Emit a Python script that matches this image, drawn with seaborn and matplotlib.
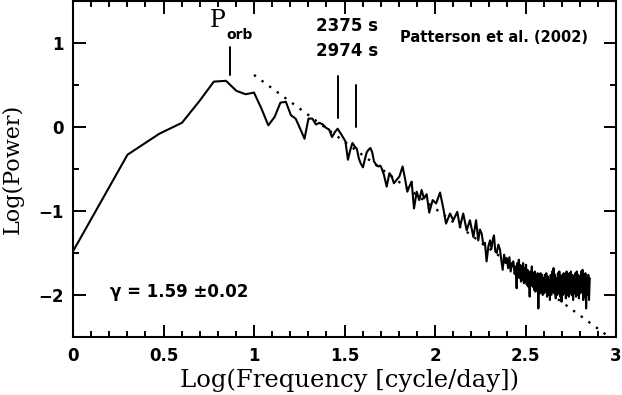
import numpy as np
import pandas as pd
import matplotlib
matplotlib.use("Agg")
import matplotlib.pyplot as plt
import seaborn as sns

# power spectrum (log10 frequency, log10 power)
log_freq = [
    0.000, 0.301, 0.477, 0.602, 0.699, 0.778, 0.845, 0.903, 0.954, 1.000,
    1.041, 1.079, 1.114, 1.146, 1.176, 1.204, 1.230, 1.255, 1.279, 1.301,
    1.322, 1.342, 1.362, 1.380, 1.398, 1.415, 1.431, 1.447, 1.462, 1.477,
    1.491, 1.505, 1.519, 1.531, 1.544, 1.556, 1.568, 1.580, 1.591, 1.602,
    1.613, 1.623, 1.633, 1.643, 1.653, 1.663, 1.675, 1.687, 1.698, 1.705,
    1.718, 1.733, 1.748, 1.761, 1.773, 1.788, 1.803, 1.821, 1.834, 1.847,
    1.862, 1.871, 1.884, 1.899, 1.913, 1.926, 1.939, 1.954, 1.968, 1.987,
    2.006, 2.028, 2.046, 2.061, 2.083, 2.101, 2.123, 2.138, 2.156, 2.175,
    2.193, 2.212, 2.227, 2.239, 2.248, 2.258, 2.267, 2.276, 2.285, 2.295,
    2.304, 2.312, 2.320, 2.326, 2.333, 2.341, 2.350, 2.359, 2.366, 2.374,
    2.382, 2.390, 2.396, 2.404, 2.411, 2.418, 2.426, 2.433, 2.440, 2.446,
    2.451, 2.455, 2.459, 2.463, 2.467, 2.471, 2.475, 2.479, 2.483, 2.487,
    2.491, 2.495, 2.499, 2.503, 2.507, 2.511, 2.515, 2.519, 2.523, 2.527,
    2.531, 2.535, 2.539, 2.543, 2.547, 2.551, 2.555, 2.559, 2.563, 2.567,
    2.571, 2.575, 2.579, 2.583, 2.587, 2.591, 2.595, 2.599, 2.603, 2.607,
    2.611, 2.615, 2.619, 2.623, 2.627, 2.631, 2.635, 2.639, 2.643, 2.647,
    2.651, 2.655, 2.659, 2.663, 2.667, 2.671, 2.675, 2.679, 2.683, 2.687,
    2.691, 2.695, 2.699, 2.703, 2.707, 2.711, 2.715, 2.719, 2.723, 2.727,
    2.731, 2.735, 2.739, 2.743, 2.747, 2.751, 2.755, 2.759, 2.763, 2.767,
    2.771, 2.775, 2.779, 2.783, 2.787, 2.791, 2.795, 2.799, 2.803, 2.807,
    2.811, 2.815, 2.819, 2.823, 2.827, 2.831, 2.835, 2.839, 2.843, 2.847,
    2.851, 2.855,
]
log_power = [
    -1.48, -0.33, -0.08, 0.05, 0.31, 0.54, 0.55, 0.43, 0.39, 0.41,
    0.22, 0.02, 0.12, 0.29, 0.30, 0.14, 0.10, -0.02, -0.14, 0.10,
    0.10, 0.03, 0.05, 0.03, -0.01, -0.03, -0.12, -0.06, -0.02, -0.07,
    -0.12, -0.17, -0.39, -0.28, -0.19, -0.23, -0.26, -0.38, -0.44, -0.48,
    -0.38, -0.30, -0.27, -0.25, -0.30, -0.41, -0.45, -0.47, -0.46, -0.49,
    -0.57, -0.71, -0.55, -0.59, -0.67, -0.63, -0.59, -0.47, -0.61, -0.77,
    -0.69, -0.65, -0.97, -0.77, -0.87, -0.75, -0.85, -0.80, -1.02, -0.87,
    -0.91, -0.78, -0.97, -1.15, -1.03, -1.11, -1.01, -1.19, -1.03, -1.23,
    -1.11, -1.31, -1.11, -1.35, -1.22, -1.27, -1.40, -1.38, -1.60, -1.42,
    -1.35, -1.45, -1.33, -1.29, -1.48, -1.50, -1.40, -1.46, -1.58, -1.70,
    -1.52, -1.62, -1.56, -1.68, -1.55, -1.72, -1.62, -1.60, -1.75, -1.66,
    -1.92, -1.62, -1.78, -1.58, -1.80, -1.64, -1.84, -1.66, -1.82, -1.62,
    -1.86, -1.68, -1.84, -1.64, -1.88, -1.70, -1.90, -1.74, -2.02, -1.72,
    -1.88, -1.66, -1.90, -1.74, -1.94, -1.72, -1.96, -1.76, -1.92, -1.74,
    -2.16, -1.78, -1.98, -1.74, -1.96, -1.76, -2.00, -1.80, -1.98, -1.76,
    -1.96, -1.74, -2.02, -1.78, -2.00, -1.82, -2.06, -1.76, -1.98, -1.72,
    -1.96, -1.68, -1.98, -1.76, -2.04, -1.80, -2.00, -1.74, -1.98, -1.72,
    -2.02, -1.78, -2.08, -1.76, -2.00, -1.74, -1.98, -1.76, -2.04, -1.72,
    -2.00, -1.78, -2.02, -1.74, -1.96, -1.72, -2.00, -1.76, -2.06, -1.78,
    -1.98, -1.74, -2.02, -1.72, -2.00, -1.76, -2.04, -1.78, -1.98, -1.72,
    -1.96, -1.70, -2.06, -1.76, -2.02, -1.74, -2.16, -1.80, -2.00, -1.76,
    -2.06, -1.80,
]

# power-law fit (dotted), gamma = 1.59
fit_x = [1.0, 3.0]
fit_y = [0.62, -2.56]

# marked periods
porb_x = 0.867
period_labels = ["2375 s", "2974 s"]
period_x = [1.561, 1.463]

spec = pd.DataFrame({"logf": log_freq, "logp": log_power})

sns.set_style("ticks")
plt.rcParams["font.family"] = ["Liberation Sans", "DejaVu Sans"]
plt.rcParams["text.color"] = "black"
plt.rcParams["axes.labelcolor"] = "black"

fig = plt.figure(figsize=(6.22, 3.95), dpi=100)
ax = fig.add_axes([73 / 622, 58 / 395, 543 / 622, 336 / 395])

sns.lineplot(data=spec, x="logf", y="logp", color="black", lw=1.5,
             estimator=None, sort=False, ax=ax)
ax.plot(fit_x, fit_y, color="black", lw=1.7, linestyle=(0, (1, 3)))

# marker lines
ax.plot([porb_x, porb_x], [0.62, 0.95], color="black", lw=1.4)
ax.plot([period_x[1], period_x[1]], [0.11, 0.61], color="black", lw=1.4)
ax.plot([period_x[0], period_x[0]], [0.0, 0.50], color="black", lw=1.4)

serif = ["DejaVu Serif"]
ax.text(0.80, 1.27, "P", fontsize=17, family=serif, ha="center", va="center")
ax.text(0.848, 1.10, "orb", fontsize=10, fontweight="bold",
        family=["DejaVu Sans"], ha="left", va="center")
ax.text(1.345, 1.20, period_labels[0], fontsize=12, fontweight="bold",
        family=["DejaVu Sans"], ha="left", va="center")
ax.text(1.345, 0.905, period_labels[1], fontsize=12, fontweight="bold",
        family=["DejaVu Sans"], ha="left", va="center")
ax.text(1.805, 1.06, "Patterson et al. (2002)", fontsize=10.5, fontweight="bold",
        family=["DejaVu Sans"], ha="left", va="center")
ax.text(0.205, -1.96, "\u03b3 = 1.59 \u00b10.02", fontsize=12, fontweight="bold",
        family=["DejaVu Sans"], ha="left", va="center")

ax.set_xlim(0, 3)
ax.set_ylim(-2.5, 1.5)
ax.set_xticks([0, 0.5, 1, 1.5, 2, 2.5, 3])
ax.set_xticklabels(["0", "0.5", "1", "1.5", "2", "2.5", "3"])
ax.set_xticks(np.arange(0, 3.01, 0.1), minor=True)
ax.set_yticks([-2, -1, 0, 1])
ax.set_yticklabels(["\u22122", "\u22121", "0", "1"])
ax.set_yticks(np.arange(-2.5, 1.51, 0.5), minor=True)

ax.tick_params(which="both", direction="in", top=True, right=True,
               bottom=True, left=True, color="black", labelcolor="black",
               width=1.4, labelsize=12, pad=7)
ax.tick_params(which="major", length=9)
ax.tick_params(which="minor", length=4.5)
for lab in ax.get_xticklabels() + ax.get_yticklabels():
    lab.set_fontweight("bold")
    lab.set_family("DejaVu Sans")
for sp in ax.spines.values():
    sp.set_linewidth(1.5)
    sp.set_color("black")

ax.set_xlabel("Log(Frequency [cycle/day])", fontsize=17.5, family=serif)
ax.xaxis.set_label_coords(0.51, -0.093)
ax.set_ylabel("Log(Power)", fontsize=16, family=serif, labelpad=10)

fig.savefig("out.png", dpi=100)
